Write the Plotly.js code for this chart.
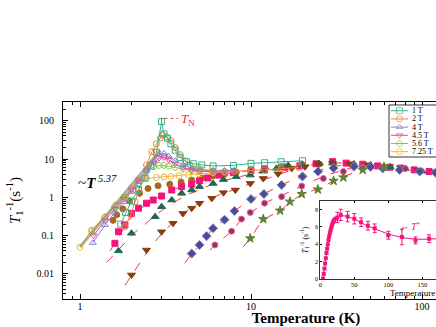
<!DOCTYPE html>
<html>
<head>
<meta charset="utf-8">
<script src="https://cdn.plot.ly/plotly-3.0.1.min.js"></script>
<style>
html, body { margin: 0; padding: 0; overflow: hidden; background: #fff; }
#chart { width: 560px; height: 327px; }
</style>
</head>
<body>
<div id="chart"></div>
<script>
// ---- low field data (open symbols, connected) ----
const t1T = [1.73, 1.85, 2.0, 2.2, 2.4, 2.6, 2.8, 3.0, 3.1, 3.25, 3.4, 3.6, 3.85, 4.2, 4.6, 5.15, 6.0, 7.9, 10, 12, 15, 20];
const r1T = [0.2, 0.4, 0.8, 1.6, 3.2, 6.5, 15, 95, 45, 35, 25, 17, 11, 8.5, 7.5, 7.0, 6.6, 6.8, 7.7, 8.0, 8.5, 9.0];

const t2T = [1.83, 1.98, 2.1, 2.21, 2.35, 2.45, 2.63, 2.8, 2.95, 3.05, 3.2, 3.4, 3.6, 3.85, 4.1, 4.4, 5.0, 6.0, 7.0, 8.0, 10, 12, 15, 19];
const r2T = [0.17, 0.35, 0.77, 1.55, 3.1, 7, 15.5, 25, 35, 42, 38, 30, 20, 13, 9, 7, 5.5, 4.8, 4.7, 4.8, 5.0, 5.2, 5.6, 6.0];

const t4T = [1.19, 1.4, 1.6, 1.8, 2.0, 2.2, 2.45, 2.7, 2.9, 3.1, 3.3, 3.6, 4.0, 4.5, 5.0, 6.0, 7.0, 8.0];
const r4T = [0.065, 0.19, 0.4, 0.75, 1.4, 2.5, 5, 9, 13, 14, 12, 9, 7, 5.8, 5.2, 5.0, 5.0, 5.1];

const t45T = [1.2, 1.4, 1.6, 1.8, 2.0, 2.2, 2.45, 2.7, 2.9, 3.1, 3.3, 3.6, 4.0, 4.5, 5.0, 6.0, 7.0, 8.0];
const r45T = [0.1, 0.25, 0.5, 0.9, 1.6, 2.8, 5, 8, 10.5, 11, 9.5, 7.5, 6, 5.2, 4.8, 4.6, 4.6, 4.7];

const t56T = [1.17, 1.4, 1.6, 1.8, 2.0, 2.2, 2.45, 2.7, 2.9, 3.1, 3.3, 3.6, 4.0, 4.5, 5.0, 6.0, 7.0, 8.0];
const r56T = [0.13, 0.3, 0.6, 1.0, 1.7, 2.9, 4.8, 6.3, 6.8, 6.8, 6.5, 6.0, 5.5, 5.0, 4.8, 4.6, 4.6, 4.7];

const t725T = [1.0, 1.17, 1.4, 1.64, 1.85, 2.05, 2.19, 2.45, 2.8, 3.1, 3.4, 3.8, 4.3, 5.0, 6.0, 7.0];
const r725T = [0.05, 0.14, 0.31, 0.63, 1.0, 1.55, 2.4, 3.1, 3.3, 3.4, 3.5, 3.7, 3.9, 4.1, 4.4, 4.6];

const powT = [1.0, 2.95];
const powR = [0.05, 17];

// ---- higher field data (filled symbols) ----
const tBrC = [1.56, 1.64, 1.78, 1.95, 2.23, 2.5, 2.86, 3.35, 3.9, 4.5, 5.2, 6.0, 7.0, 8.2, 10, 12, 15, 20, 25];
const rBrC = [0.25, 0.35, 0.5, 0.8, 1.27, 1.7, 2.0, 2.2, 2.5, 2.8, 3.2, 3.6, 4.0, 4.5, 5.1, 5.6, 6.3, 7.0, 7.3];

const tPkS = [1.6, 1.68, 1.83, 2.0, 2.2, 2.45, 2.68, 3.0, 3.44, 3.93, 4.5, 5.0, 5.6, 6.5, 7.9, 10, 12, 15.8, 19.3, 24, 30, 36, 45, 55, 65, 75, 90, 110, 130];
const rPkS = [0.063, 0.126, 0.19, 0.38, 0.52, 0.7, 0.85, 1.08, 1.55, 1.9, 2.2, 2.7, 3.2, 3.8, 4.4, 4.95, 5.4, 6.1, 6.6, 7.5, 8.5, 7.8, 7.3, 6.6, 6.1, 5.8, 5.2, 4.7, 4.5];

const tGrT = [1.68, 2.0, 2.75, 3.0, 3.44, 3.93, 4.5, 5.0, 6.0, 6.9, 8.2, 9.9, 11.8, 14.1, 16.5, 20, 25, 30, 40, 50, 65, 80, 100];
const rGrT = [0.04, 0.115, 0.31, 0.57, 0.85, 1.27, 1.55, 1.9, 2.3, 2.9, 3.45, 3.8, 4.8, 5.7, 6.8, 7.2, 7.6, 7.9, 7.4, 7.0, 6.2, 5.6, 4.8];

const tBrT = [2.0, 2.45, 3.0, 3.5, 4.0, 4.5, 5.0, 5.9, 6.9, 8.1, 9.9, 11.8, 14.4, 17.3, 20.7, 24.7, 30, 38, 48, 60, 75, 95, 120, 150];
const rBrT = [0.0094, 0.042, 0.126, 0.21, 0.38, 0.52, 0.7, 0.94, 1.32, 1.55, 2.3, 3.1, 4.1, 5.7, 6.3, 7.4, 7.6, 7.5, 7.1, 6.3, 5.8, 5.0, 4.6, 4.4];

const tNvD = [4.5, 5.0, 5.5, 6.0, 7.0, 8.0, 10, 11.9, 15.1, 20, 24.7, 30.4, 40, 50, 59, 74, 97, 120, 150];
const rNvD = [0.034, 0.057, 0.097, 0.155, 0.26, 0.44, 0.9, 1.22, 2.1, 3.5, 4.7, 5.8, 6.3, 6.2, 5.7, 5.2, 4.7, 4.4, 4.3];

const tMrC = [6.15, 7.7, 8.8, 9.9, 12, 15.1, 19.8, 26.5, 34.7, 45, 60, 80];
const rMrC = [0.057, 0.13, 0.27, 0.4, 0.7, 1.04, 1.97, 3.1, 4.7, 6.0, 6.2, 5.6];

const tOlS = [9.9, 11.8, 14.8, 16.9, 19.8, 24.6, 30.4, 34.7, 45, 60];
const rOlS = [0.085, 0.27, 0.45, 0.77, 1.22, 1.6, 2.7, 3.3, 5.2, 6.2];

// red dashed fits
const fitPkT = [1.5, 1.6, 1.8, 2.0, 2.5, 3.0, 4.0, 5.0, 6.0, 8.0, 10, 13, 17, 22];
const fitPkR = [0.04, 0.065, 0.15, 0.3, 0.7, 1.1, 2.0, 2.8, 3.4, 4.4, 5.0, 5.8, 6.5, 7.0];
const fitGrT = [1.43, 1.7, 2.0, 2.5, 3.0, 4.0, 5.0, 6.0, 8.0, 10, 13, 17, 22, 30];
const fitGrR = [0.02, 0.045, 0.1, 0.23, 0.45, 1.0, 1.6, 2.2, 3.2, 4.0, 5.0, 6.0, 7.0, 7.8];
const fitBrT = [1.83, 2.0, 2.5, 3.0, 4.0, 5.0, 6.0, 8.0, 10, 13, 17, 22, 28, 35];
const fitBrR = [0.005, 0.009, 0.04, 0.11, 0.37, 0.7, 1.0, 1.6, 2.3, 3.3, 5.0, 6.5, 7.5, 8.0];
const fitNvT = [4.1, 4.5, 5.0, 6.0, 7.0, 8.0, 10, 12, 15, 20, 25, 30, 40];
const fitNvR = [0.019, 0.033, 0.055, 0.15, 0.26, 0.43, 0.88, 1.25, 2.1, 3.5, 5.0, 6.3, 7.5];
const fitMrT = [5.76, 6.15, 7.7, 8.8, 10, 12, 15, 20, 27, 35, 45];
const fitMrR = [0.042, 0.057, 0.13, 0.26, 0.4, 0.7, 1.1, 2.0, 3.6, 5.2, 7.0];
const fitOlT = [9.0, 9.9, 11.8, 14.8, 17, 20, 25, 30, 35, 45, 55];
const fitOlR = [0.05, 0.085, 0.25, 0.45, 0.75, 1.2, 1.7, 2.6, 3.5, 5.3, 7.0];

// T_N marker guide
const tnT = [3.0, 3.0, 3.75];
const tnR = [95, 115, 115];

// ---- inset (linear) ----
const insRiseT = [4, 5, 6, 7, 8, 9, 10, 11, 12, 13, 14, 15, 16, 17, 18, 19, 20, 22];
const insRiseR = [0.05, 0.6, 1.2, 1.8, 2.4, 3.0, 3.5, 4.0, 4.5, 4.9, 5.3, 5.6, 5.9, 6.2, 6.4, 6.6, 6.75, 6.95];
const insT = [25, 30, 40, 50, 60, 70, 80, 100, 120, 140, 160];
const insR = [7.1, 7.4, 7.2, 6.95, 6.55, 6.15, 5.85, 5.05, 4.85, 4.45, 4.65];
const insErr = [0.6, 0.65, 0.6, 0.6, 0.5, 0.5, 0.5, 0.45, 0.9, 0.4, 0.45];
const insFitT = [3, 5, 8, 12, 16, 20, 25, 30, 40, 50, 60, 70, 80, 100, 120, 140, 160, 180, 200];
const insFitR = [0, 0.6, 2.4, 4.5, 5.9, 6.75, 7.15, 7.3, 7.2, 6.9, 6.5, 6.1, 5.8, 5.2, 4.8, 4.6, 4.6, 4.7, 4.8];
const tStarT = [120, 120, 128];
const tStarR = [5.5, 5.9, 5.9];

// ---- legend ----
const legNames = ["1 T", "2 T", "4 T", "4.5 T", "5.6 T", "7.25 T"];
const legSymbols = ["square-open", "circle-open", "triangle-up-open", "triangle-down-open", "octagon-open", "circle-open"];
const legColors = ["#38b08c", "#ee8434", "#8a80d0", "#e8449c", "#8cc43c", "#f4b82c"];

const fitColor = "#ff3030";
const serif = "Liberation Serif, Times New Roman, serif";

function openSeries(x, y, i) {
  return {
    x: x, y: y, type: "scatter", mode: "lines+markers",
    line: { color: legColors[i], width: 1 },
    marker: { symbol: legSymbols[i], size: 6, color: legColors[i], line: { color: legColors[i], width: 1 } },
    hoverinfo: "skip"
  };
}

function filled(x, y, sym, color, edge, size) {
  return {
    x: x, y: y, type: "scatter", mode: "markers",
    marker: { symbol: sym, size: size || 6, color: color, line: { color: edge || color, width: 1 } },
    hoverinfo: "skip"
  };
}

function fit(x, y) {
  return {
    x: x, y: y, type: "scatter", mode: "lines",
    line: { color: fitColor, width: 1, dash: "dash", shape: "spline" },
    hoverinfo: "skip"
  };
}

const traces = [
  fit(fitPkT, fitPkR), fit(fitGrT, fitGrR), fit(fitBrT, fitBrR),
  fit(fitNvT, fitNvR), fit(fitMrT, fitMrR), fit(fitOlT, fitOlR),
  filled(tBrC, rBrC, "circle", "#a8681c"),
  filled(tPkS, rPkS, "square", "#f5127a"),
  filled(tGrT, rGrT, "triangle-up", "#1d6a4f", null, 7),
  filled(tBrT, rBrT, "triangle-down", "#8b3c10", null, 7),
  filled(tNvD, rNvD, "diamond", "#4c4c94", "#8888c8", 7),
  filled(tMrC, rMrC, "circle", "#a32a62", "#e070a8"),
  filled(tOlS, rOlS, "star", "#5e8232", null, 7),
  openSeries(t725T, r725T, 5),
  openSeries(t56T, r56T, 4),
  openSeries(t45T, r45T, 3),
  openSeries(t4T, r4T, 2),
  openSeries(t2T, r2T, 1),
  openSeries(t1T, r1T, 0),
  { x: powT, y: powR, type: "scatter", mode: "lines",
    line: { color: "rgba(150,140,110,0.7)", width: 3 }, hoverinfo: "skip" },
  { x: tnT, y: tnR, type: "scatter", mode: "lines",
    line: { color: fitColor, width: 1, dash: "dot" }, hoverinfo: "skip" },
  // inset
  { x: insFitT, y: insFitR, xaxis: "x2", yaxis: "y2", type: "scatter", mode: "lines",
    line: { color: "#f5127a", width: 1, shape: "spline" }, hoverinfo: "skip" },
  { x: insRiseT, y: insRiseR, xaxis: "x2", yaxis: "y2", type: "scatter", mode: "markers",
    marker: { symbol: "square", size: 4, color: "#f5127a" }, hoverinfo: "skip" },
  { x: insT, y: insR, xaxis: "x2", yaxis: "y2", type: "scatter", mode: "markers",
    marker: { symbol: "square", size: 4, color: "#f5127a" },
    error_y: { type: "data", array: insErr, visible: true, color: "#f5127a", thickness: 1, width: 2 },
    hoverinfo: "skip" },
  { x: tStarT, y: tStarR, xaxis: "x2", yaxis: "y2", type: "scatter", mode: "lines",
    line: { color: "#f5127a", width: 0.7 }, hoverinfo: "skip" }
];

// legend samples on their own hidden axes
legNames.forEach(function (name, i) {
  traces.push({
    x: [2, 10.5, 19], y: [i, i, i], xaxis: "x3", yaxis: "y3",
    type: "scatter", mode: "lines+markers",
    line: { color: legColors[i], width: 1 },
    marker: { symbol: legSymbols[i], size: [0, 6, 0], color: legColors[i], line: { color: legColors[i], width: 1 } },
    hoverinfo: "skip"
  });
});

const legAnnotations = legNames.map(function (name, i) {
  return { xref: "x3", yref: "y3", x: 21, y: i, text: name, showarrow: false,
    xanchor: "left", yanchor: "middle", font: { size: 8, family: serif, color: "#000" } };
});

const layout = {
  width: 560, height: 327,
  margin: { l: 63, r: 11, t: 102, b: 28 },
  paper_bgcolor: "#fff", plot_bgcolor: "#fff",
  showlegend: false,
  font: { family: serif, color: "#000" },
  xaxis: {
    type: "log", range: [-0.0994, 2.7427], domain: [0, 1],
    showline: true, linecolor: "#000", linewidth: 1, mirror: "allticks",
    ticks: "inside", ticklen: 5, tickcolor: "#000", dtick: 1,
    minor: { ticks: "inside", ticklen: 3, tickcolor: "#000", dtick: "D1" },
    showgrid: false, zeroline: false, ticklabelstandoff: -2,
    tickfont: { size: 10, family: serif },
    title: { text: "<b>Temperature (K)</b>", font: { size: 15, family: serif }, standoff: 3 }
  },
  yaxis: {
    type: "log", range: [-2.655, 2.488], domain: [0, 1],
    showline: true, linecolor: "#000", linewidth: 1, mirror: "allticks",
    ticks: "inside", ticklen: 5, tickcolor: "#000", dtick: 1,
    minor: { ticks: "inside", ticklen: 3, tickcolor: "#000", dtick: "D1" },
    showgrid: false, zeroline: false, ticklabelstandoff: 6,
    tickfont: { size: 10, family: serif },
    title: { text: "<i>T</i><sub>1</sub><sup>-1</sup>(s<sup>-1</sup>)", font: { size: 15, family: serif }, standoff: 12 }
  },
  xaxis2: {
    anchor: "y2", domain: [0.5288, 0.9444], range: [-0.5, 296.6],
    dtick: 50, tick0: 0, ticks: "inside", ticklen: 2, tickcolor: "#000",
    showline: true, linecolor: "#000", linewidth: 0.8, mirror: "allticks",
    showgrid: false, zeroline: false, ticklabelstandoff: -1,
    tickfont: { size: 6.5, family: serif }
  },
  yaxis2: {
    anchor: "x2", domain: [0.1015, 0.4975], range: [0, 9],
    dtick: 2, ticks: "inside", ticklen: 2, tickcolor: "#000",
    showline: true, linecolor: "#000", linewidth: 0.8, mirror: "allticks",
    showgrid: false, zeroline: false,
    tickfont: { size: 6, family: serif },
    title: { text: "<i>T</i><sub>1</sub><sup>-1</sup> (s<sup>-1</sup>)", font: { size: 8, family: serif }, standoff: 5 }
  },
  xaxis3: { anchor: "y3", domain: [0.6708, 1], range: [0, 160], visible: false, fixedrange: true },
  yaxis3: { anchor: "x3", domain: [0.7208, 0.9848], range: [5.65, -0.7], visible: false, fixedrange: true },
  shapes: [
    { type: "rect", xref: "paper", yref: "paper", x0: 0.6708, x1: 1.2, y0: 0.7208, y1: 0.9848,
      line: { color: "#000", width: 0.8 }, layer: "above" }
  ],
  annotations: legAnnotations.concat([
    { xref: "x", yref: "y", x: 0.105, y: 0.40, showarrow: false,
      text: "~<i><b>T</b></i><sup><i> 5.37</i></sup>", font: { size: 15, family: serif, color: "#000" } },
    { xref: "x", yref: "y", x: 0.632, y: 2.02, showarrow: false,
      text: "<i>T</i><sub>N</sub>", font: { size: 13, family: serif, color: "#ff2020" } },
    { xref: "x2", yref: "y2", x: 141, y: 6.1, showarrow: false,
      text: "<i>T</i><sup>*</sup>", font: { size: 10, family: serif, color: "#ff2020" } },
    // inset x title
    { xref: "paper", yref: "paper", x: 0.6687, y: 0.03, xanchor: "left", yanchor: "middle", showarrow: false,
      text: "Temperature (K)", font: { size: 9, family: serif, color: "#000" } }
  ])
};

Plotly.newPlot("chart", traces, layout, { displayModeBar: false, staticPlot: true });
</script>
</body>
</html>
